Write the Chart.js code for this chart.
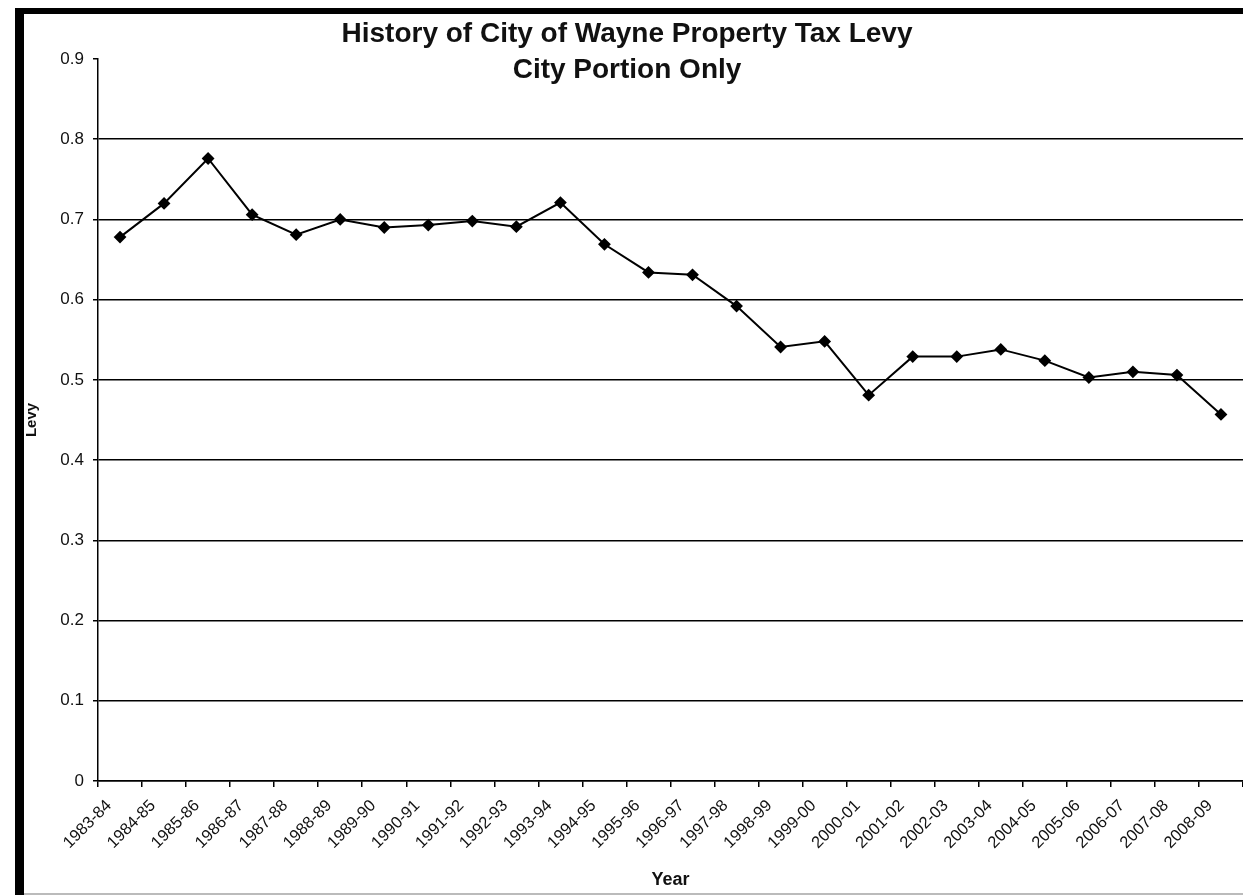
<!DOCTYPE html>
<html>
<head>
<meta charset="utf-8">
<script src="https://cdn.jsdelivr.net/npm/chart.js@4.4.1/dist/chart.umd.min.js"></script>
<style>
  html, body { margin: 0; padding: 0; background: #fff; overflow: hidden; }
  #wrap { position: relative; width: 1250px; height: 895px; }
</style>
</head>
<body>
<div id="wrap"><canvas id="chart"></canvas></div>
<script>
const years = [
  "1983-84", "1984-85", "1985-86", "1986-87", "1987-88", "1988-89", "1989-90",
  "1990-91", "1991-92", "1992-93", "1993-94", "1994-95", "1995-96", "1996-97",
  "1997-98", "1998-99", "1999-00", "2000-01", "2001-02", "2002-03", "2003-04",
  "2004-05", "2005-06", "2006-07", "2007-08", "2008-09"
];
const levy = [
  0.678, 0.720, 0.776, 0.706, 0.681, 0.700, 0.690,
  0.693, 0.698, 0.691, 0.721, 0.669, 0.634, 0.631,
  0.592, 0.541, 0.548, 0.481, 0.529, 0.529, 0.538,
  0.524, 0.503, 0.510, 0.506, 0.457
];
const titleLines = ["History of City of Wayne Property Tax Levy", "City Portion Only"];
const yLabel = "Levy";
const xLabel = "Year";
const yMin = 0;
const yMax = 0.9;
const yStep = 0.1;

const FONT = "'Liberation Sans', Arial, sans-serif";

// frame + white page behind the chart, title drawn over the plot top
const framePlugin = {
  id: "frame",
  beforeDraw(chart) {
    const ctx = chart.ctx;
    ctx.save();
    ctx.fillStyle = "#fff";
    ctx.fillRect(0, 0, chart.width, chart.height);
    ctx.fillStyle = "#000";
    ctx.fillRect(15, 8, 9, chart.height - 8);
    ctx.fillRect(15, 8, chart.width - 15, 6);
    ctx.fillStyle = "#bbb";
    ctx.fillRect(24, chart.height - 2, chart.width - 24, 2);
    ctx.restore();
  },
  afterDraw(chart) {
    const ctx = chart.ctx;
    ctx.save();
    ctx.fillStyle = "#111";
    ctx.font = "bold 28px " + FONT;
    ctx.textAlign = "center";
    ctx.textBaseline = "alphabetic";
    ctx.fillText(titleLines[0], 627, 42);
    ctx.fillText(titleLines[1], 627, 78);
    ctx.restore();
  }
};

new Chart(document.getElementById("chart"), {
  type: "line",
  data: {
    labels: years,
    datasets: [{
      label: yLabel,
      data: levy,
      borderColor: "#000",
      backgroundColor: "#000",
      borderWidth: 2,
      pointStyle: "rectRot",
      pointRadius: 5,
      pointBackgroundColor: "#000",
      pointBorderColor: "#000",
      tension: 0
    }]
  },
  options: {
    responsive: true,
    maintainAspectRatio: false,
    animation: false,
    layout: { padding: { top: 59, right: 0, left: 0, bottom: 0 } },
    plugins: {
      legend: { display: false },
      title: { display: false },
      tooltip: { enabled: false }
    },
    scales: {
      x: {
        type: "category",
        offset: true,
        afterFit: (s) => { s.height = 114; },
        grid: {
          offset: true,
          drawOnChartArea: false,
          color: "#000",
          tickLength: 6,
          lineWidth: 1.5
        },
        border: { color: "#000", width: 1.5 },
        ticks: {
          autoSkip: false,
          minRotation: 45,
          maxRotation: 45,
          padding: 9,
          labelOffset: -11,
          color: "#111",
          font: { family: FONT, size: 16.5 }
        },
        title: {
          display: true,
          text: xLabel,
          color: "#111",
          font: { family: FONT, size: 18, weight: "bold" },
          padding: { top: 0, bottom: 4 }
        }
      },
      y: {
        min: yMin,
        max: yMax,
        afterFit: (s) => { s.width = 98; },
        grid: {
          color: (c) => (c.tick && c.tick.value > yMax - 1e-9) ? "rgba(0,0,0,0)" : "#000",
          tickColor: "#000",
          lineWidth: 1.5,
          tickLength: 5
        },
        border: { color: "#000", width: 1.5 },
        ticks: {
          stepSize: yStep,
          padding: 9,
          color: "#111",
          font: { family: FONT, size: 17 },
          callback: (v) => (Math.abs(v) < 1e-9 ? "0" : Number(v).toFixed(1))
        },
        title: {
          display: true,
          text: yLabel,
          color: "#111",
          font: { family: FONT, size: 15, weight: "bold" },
          padding: { top: 23, bottom: 0 }
        }
      }
    }
  },
  plugins: [framePlugin]
});
</script>
</body>
</html>
